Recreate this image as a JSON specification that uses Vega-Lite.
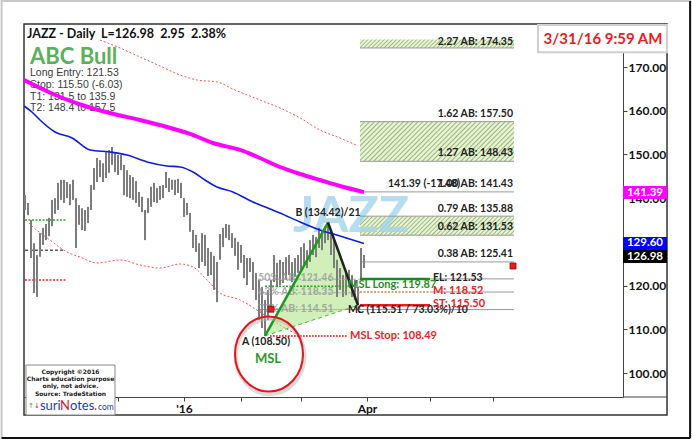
{
"$schema": "https://vega.github.io/schema/vega-lite/v6.json",
"width": 599, "height": 373,
"autosize": {"type": "none"},
"padding": {"left": 24, "top": 24, "right": 69, "bottom": 43},
"background": "white",
"config": {"view": {"stroke": null}, "font": "Lato"},
"datasets": {
"bars": [
{"i":-113,"v":140.7,"v2":137.3},{"i":-112,"v":138.9,"v2":136.1},{"i":-111,"v":135.0,"v2":126.3},{"i":-110,"v":129.7,"v2":118.3},{"i":-109,"v":127.0,"v2":117.4},{"i":-108,"v":132.0,"v2":126.6},{"i":-107,"v":133.2,"v2":129.3},{"i":-106,"v":134.1,"v2":130.4},{"i":-105,"v":135.5,"v2":131.3},{"i":-104,"v":139.6,"v2":133.6},{"i":-103,"v":140.0,"v2":136.4},{"i":-102,"v":143.5,"v2":137.3},{"i":-101,"v":144.2,"v2":139.6},{"i":-100,"v":144.2,"v2":138.9},{"i":-99,"v":143.7,"v2":140.0},{"i":-98,"v":143.2,"v2":138.4},{"i":-97,"v":144.2,"v2":139.6},{"i":-96,"v":140.0,"v2":128.6},{"i":-95,"v":138.4,"v2":133.9},{"i":-94,"v":137.7,"v2":132.7},{"i":-93,"v":137.3,"v2":132.5},{"i":-92,"v":138.0,"v2":134.3},{"i":-91,"v":143.0,"v2":137.3},{"i":-90,"v":146.9,"v2":141.9},{"i":-89,"v":149.2,"v2":143.7},{"i":-88,"v":148.7,"v2":144.8},{"i":-87,"v":148.0,"v2":143.7},{"i":-86,"v":150.6,"v2":144.6},{"i":-85,"v":151.0,"v2":145.8},{"i":-84,"v":151.7,"v2":147.6},{"i":-83,"v":150.3,"v2":146.0},{"i":-82,"v":149.9,"v2":145.3},{"i":-81,"v":149.9,"v2":146.4},{"i":-80,"v":147.6,"v2":140.7},{"i":-79,"v":146.4,"v2":140.3},{"i":-78,"v":145.3,"v2":140.0},{"i":-77,"v":144.8,"v2":139.6},{"i":-76,"v":143.9,"v2":138.9},{"i":-75,"v":141.4,"v2":138.0},{"i":-74,"v":140.3,"v2":136.8},{"i":-73,"v":137.3,"v2":130.4},{"i":-72,"v":140.0,"v2":136.6},{"i":-71,"v":142.6,"v2":138.0},{"i":-70,"v":143.5,"v2":139.1},{"i":-69,"v":142.3,"v2":138.9},{"i":-68,"v":142.8,"v2":139.6},{"i":-67,"v":143.0,"v2":140.0},{"i":-66,"v":146.0,"v2":142.3},{"i":-65,"v":144.6,"v2":141.4},{"i":-64,"v":144.2,"v2":141.9},{"i":-63,"v":144.2,"v2":140.7},{"i":-62,"v":144.4,"v2":141.2},{"i":-61,"v":143.5,"v2":140.0},{"i":-60,"v":140.0,"v2":135.7},{"i":-59,"v":138.9,"v2":136.1},{"i":-58,"v":136.6,"v2":132.3},{"i":-57,"v":132.7,"v2":128.6},{"i":-56,"v":131.6,"v2":127.7},{"i":-55,"v":129.7,"v2":124.0},{"i":-54,"v":132.0,"v2":125.4},{"i":-53,"v":131.6,"v2":124.5},{"i":-52,"v":128.6,"v2":122.2},{"i":-51,"v":127.7,"v2":122.4},{"i":-50,"v":126.8,"v2":119.0},{"i":-49,"v":125.4,"v2":116.2},{"i":-48,"v":131.8,"v2":125.9},{"i":-47,"v":133.2,"v2":128.8},{"i":-46,"v":134.1,"v2":130.9},{"i":-45,"v":133.9,"v2":130.4},{"i":-44,"v":132.0,"v2":128.6},{"i":-43,"v":130.9,"v2":126.8},{"i":-42,"v":130.0,"v2":123.6},{"i":-41,"v":129.3,"v2":125.2},{"i":-40,"v":127.0,"v2":121.7},{"i":-39,"v":126.3,"v2":120.1},{"i":-38,"v":126.3,"v2":123.1},{"i":-37,"v":125.4,"v2":119.0},{"i":-36,"v":122.9,"v2":116.7},{"i":-35,"v":121.3,"v2":112.1},{"i":-34,"v":119.7,"v2":110.3},{"i":-33,"v":116.7,"v2":108.5},{"i":-32,"v":119.0,"v2":112.1},{"i":-31,"v":121.3,"v2":114.0},{"i":-30,"v":127.0,"v2":120.8},{"i":-29,"v":125.2,"v2":119.7},{"i":-28,"v":125.9,"v2":120.1},{"i":-27,"v":125.4,"v2":120.6},{"i":-26,"v":126.5,"v2":121.3},{"i":-25,"v":127.0,"v2":122.4},{"i":-24,"v":125.4,"v2":120.8},{"i":-23,"v":126.3,"v2":122.0},{"i":-22,"v":127.0,"v2":122.9},{"i":-21,"v":128.8,"v2":123.6},{"i":-20,"v":129.7,"v2":124.7},{"i":-19,"v":128.1,"v2":124.0},{"i":-18,"v":130.4,"v2":125.4},{"i":-17,"v":131.6,"v2":127.0},{"i":-16,"v":131.1,"v2":126.5},{"i":-15,"v":133.2,"v2":128.6},{"i":-14,"v":132.7,"v2":128.1},{"i":-13,"v":133.6,"v2":129.7},{"i":-12,"v":134.42,"v2":130.4},{"i":-11,"v":132.3,"v2":127.0},{"i":-10,"v":130.4,"v2":124.0},{"i":-9,"v":125.9,"v2":117.4},{"i":-8,"v":124.0,"v2":119.0},{"i":-7,"v":122.4,"v2":117.4},{"i":-6,"v":123.1,"v2":117.8},{"i":-5,"v":123.6,"v2":119.7},{"i":-4,"v":122.4,"v2":117.4},{"i":-3,"v":121.3,"v2":116.7},{"i":-2,"v":119.7,"v2":115.5},{"i":-1,"v":128.6,"v2":121.3},{"i":0,"v":127.0,"v2":124.0}
],
"ma50": [
{"i":-113.3,"v":161.08},{"i":-110.7,"v":159.71},{"i":-108,"v":157.88},{"i":-103,"v":155.14},{"i":-97.3,"v":153.76},{"i":-91.3,"v":151.02},{"i":-84.7,"v":150.56},{"i":-79,"v":149.87},{"i":-72.3,"v":148.27},{"i":-65.7,"v":147.36},{"i":-61.3,"v":147.13},{"i":-57,"v":145.99},{"i":-53,"v":144.15},{"i":-49,"v":142.55},{"i":-43.7,"v":141.41},{"i":-37,"v":139.12},{"i":-31.3,"v":137.52},{"i":-28,"v":136.6},{"i":-21.3,"v":134.54},{"i":-14.7,"v":132.72},{"i":-8,"v":131.34},{"i":0,"v":129.6}
],
"ma200": [
{"i":-113.3,"v":167.03},{"i":-108,"v":165.2},{"i":-101.3,"v":163.14},{"i":-93,"v":161.08},{"i":-84.7,"v":159.48},{"i":-74.7,"v":157.88},{"i":-65.7,"v":156.28},{"i":-58,"v":154.68},{"i":-50.3,"v":152.62},{"i":-41.3,"v":151.02},{"i":-34.7,"v":149.19},{"i":-28,"v":147.13},{"i":-21.3,"v":145.53},{"i":-14.7,"v":144.15},{"i":-8,"v":142.78},{"i":0,"v":141.39}
],
"bandUp": [
{"i":-88,"v":176.18},{"i":-81.3,"v":174.35},{"i":-74.7,"v":172.29},{"i":-68,"v":170.24},{"i":-61.3,"v":168.18},{"i":-55.7,"v":167.03},{"i":-49,"v":166.57},{"i":-43,"v":164.74},{"i":-34.7,"v":162.46},{"i":-28,"v":160.63},{"i":-21.3,"v":158.34},{"i":-14.7,"v":155.59},{"i":-8,"v":153.76},{"i":-2.7,"v":152.16}
],
"bandLo": [
{"i":-112.7,"v":135.0},{"i":-110.3,"v":133.4},{"i":-104.7,"v":130.43},{"i":-99,"v":127.68},{"i":-94.7,"v":126.54},{"i":-89,"v":125.17},{"i":-81.3,"v":125.85},{"i":-74.7,"v":124.71},{"i":-68,"v":124.02},{"i":-61.3,"v":124.94},{"i":-57,"v":124.25},{"i":-52.3,"v":121.28},{"i":-48,"v":118.3},{"i":-41.3,"v":116.7},{"i":-34.7,"v":113.96},{"i":-28,"v":110.98},{"i":-21.3,"v":108.46}
],
"box1": [{"i":-1.33,"i2":50,"v":176.3,"v2":174.35}],
"box2": [{"i":-1.33,"i2":50,"v":157.5,"v2":148.43}],
"box3": [{"i":-1.33,"i2":50,"v":135.88,"v2":131.53}],
"levels": [{"i":-1.33,"i2":50,"v":174.35},{"i":-1.33,"i2":50,"v":157.5},{"i":-1.33,"i2":50,"v":148.43},{"i":-0.67,"i2":50,"v":141.43},{"i":-1.33,"i2":50,"v":135.88},{"i":-1.33,"i2":50,"v":131.53},{"i":-0.67,"i2":50,"v":125.41},{"i":22,"i2":50,"v":121.53},{"i":22,"i2":50,"v":118.52},{"i":-35.3,"i2":50,"v":114.51}],
"levelLabels": [{"i":49.67,"v":175.8,"t":"2.27 AB: 174.35"},{"i":49.67,"v":159.25,"t":"1.62 AB: 157.50"},{"i":49.67,"v":150.3,"t":"1.27 AB: 148.43"},{"i":49.67,"v":143.2,"t":"1.00 AB: 141.43"},{"i":49.67,"v":137.5,"t":"0.79 AB: 135.88"},{"i":49.67,"v":133.4,"t":"0.62 AB: 131.53"},{"i":49.67,"v":127.2,"t":"0.38 AB: 125.41"}],
"blackLeft": [{"i":8,"v":143.2,"t":"141.39 (-17.48)"},{"i":23,"v":121.7,"t":"EL: 121.53"},{"i":-2.3,"v":114.4,"t":"C (115.51 / 73.03%)/10"},{"i":-5.3,"v":114.4,"t":"M:"}],
"redLeft": [{"i":23,"v":118.8,"t":"M: 118.52"},{"i":23,"v":115.8,"t":"ST: 115.50"},{"i":-4.67,"v":108.5,"t":"MSL Stop: 108.49"}],
"greenLeft": [{"i":-5.3,"v":120.1,"t":"MSL Long: 119.87"}],
"grayRetr": [{"i":-35.3,"v":121.7,"t":"50% AB: 121.46"},{"i":-35.3,"v":118.5,"t":"62% AB: 118.35"},{"i":-35.3,"v":114.6,"t":"77% AB: 114.51"}],
"retrLines": [{"i":-35.3,"i2":-1.33,"v":121.46},{"i":-35.3,"i2":-1.33,"v":118.35}],
"elLine": [{"i":-1.33,"i2":22,"v":121.53}],
"stLine": [{"i":-1.33,"i2":22,"v":115.5}],
"mLine": [{"i":-1.33,"i2":22,"v":118.52}],
"mslLong": [{"i":-33,"i2":-5.3,"v":119.87}],
"mslStop": [{"i":-31.3,"i2":-5.3,"v":108.49}],
"oldGreen": [{"i":-113,"i2":-99.3,"v":135.0}],
"oldBlack": [{"i":-113,"i2":-100.3,"v":128.1}],
"oldRed": [{"i":-113,"i2":-99.3,"v":121.3}],
"tri": [{"i":-33,"v":108.5,"v2":108.5},{"i":-12,"v":134.42,"v2":113.25},{"i":-2,"v":115.51,"v2":115.51}],
"ab": [{"i":-33,"v":108.5},{"i":-12,"v":134.42}],
"bc": [{"i":-12,"v":134.42},{"i":-2,"v":115.51}],
"ac": [{"i":-33,"v":108.5},{"i":-2,"v":115.51}],
"centerBlack": [{"i":-12,"v":136.6,"t":"B (134.42)/21"},{"i":-32.67,"v":107.1,"t":"A (108.50)"}],
"msl": [{"i":-32,"v":103.2,"t":"MSL"}],
"circle": [{"i":-31.67,"v":104.35}],
"shadow": [{"i":-31.3,"v":103.8}],
"redSq": [{"i":49.67,"v":124.48},{"i":-31,"v":114.6}],
"header": [{"i":-112.33,"v":177.56,"t":"JAZZ - Daily\u00a0 L=126.98\u00a0 2.95\u00a0 2.38%"}],
"abc": [{"i":-111.33,"v":172.3,"t":"ABC Bull"}],
"details": [{"i":-111.33,"v":168.6,"t":"Long Entry: 121.53"},{"i":-111.33,"v":165.9,"t":"Stop: 115.50 (-6.03)"},{"i":-111.33,"v":163.1,"t":"T1: 131.5 to 135.9"},{"i":-111.33,"v":160.6,"t":"T2: 148.4 to 157.5"}],
"watermark": [{"i":-4.33,"v":135.7,"t":"JAZZ"}],
"axisBoxes": [{"i":86.33,"i2":101,"v":142.78,"v2":139.8,"c":"m","t":"141.39","vt":141.29},{"i":86.33,"i2":101,"v":131.11,"v2":128.14,"c":"b","t":"129.60","vt":129.63},{"i":86.33,"i2":101,"v":128.14,"v2":125.17,"c":"k","t":"126.98","vt":126.65}],
"dateBox": [{"i":58,"i2":101,"v":179.6,"v2":173.37}],
"dateText": [{"i":79.67,"v":176.38,"t":"3/31/16 9:59 AM"}],
"frame": [{"i":-113.33,"i2":101,"v":179.84,"v2":90.39}],
"outer": [{"i":-120.8,"i2":108.7,"v":185.1,"v2":85.13}],
"outerBottom": [{"i":-120.8,"i2":108.7,"v":85.13}],
"outerRight": [{"i":108.7,"v":185.1,"v2":85.13}],
"axisExt": [{"i":86.33,"i2":101,"v":94.51}],
"copyBox": [{"i":-112.67,"i2":-83,"v":101.83,"v2":90.39}],
"copyText": [{"i":-97.83,"v":100.23,"t":"Copyright ©2016"},{"i":-97.83,"v":98.63,"t":"Charts education purpose"},{"i":-97.83,"v":97.03,"t":"only, not advice."},{"i":-97.83,"v":95.2,"t":"Source: TradeStation"}],
"logoBlue": [{"i":-108,"v":92.45,"t":"suri"},{"i":-98,"v":92.45,"t":"otes"}],
"logoRed": [{"i":-101.33,"v":92.45,"t":"N"},{"i":-90,"v":92.45,"t":"."}],
"logoCom": [{"i":-88.67,"v":92.3,"t":"com"}],
"arrowUp": [{"i":-112,"v":92.45,"t":"↑"}],
"arrowDown": [{"i":-110,"v":92.45,"t":"↓"}]
},
"encoding": {
"x": {"field": "i", "type": "quantitative",
 "scale": {"domain": [-113.33, 86.33], "nice": false, "zero": false},
 "axis": {"orient": "bottom", "values": [-82, -60, -41, -21, 1, 22, 43], "labelExpr": "datum.value == -60 ? \"'16\" : (datum.value == 1 ? 'Apr' : '')", "title": null, "grid": false, "domainColor": "#444", "tickColor": "#444", "tickSize": 4, "labelFont": "Lato", "labelFontWeight": "bold", "labelFontSize": 12, "labelColor": "#111", "labelPadding": 2, "labelFlush": false, "labelOverlap": false}},
"y": {"field": "v", "type": "quantitative",
 "scale": {"domain": [94.51, 179.84], "nice": false, "zero": false},
 "axis": {"orient": "right", "values": [100, 110, 120, 130, 140, 150, 160, 170], "format": ".2f", "title": null, "grid": false, "domainColor": "#444", "tickColor": "#444", "tickSize": 4, "labelFont": "Lato", "labelFontWeight": "bold", "labelFontSize": 12, "labelColor": "#111", "labelPadding": 1}}
},
"layer": [
{"data": {"name": "outer"}, "mark": {"type": "rect", "fill": null, "stroke": "#c8c8c8", "strokeWidth": 2, "clip": false}, "encoding": {"x2": {"field": "i2"}, "y2": {"field": "v2"}}},
{"data": {"name": "outerBottom"}, "mark": {"type": "rule", "color": "#111", "strokeWidth": 2, "clip": false}, "encoding": {"x2": {"field": "i2"}}},
{"data": {"name": "outerRight"}, "mark": {"type": "rule", "color": "#111", "strokeWidth": 2, "clip": false}, "encoding": {"y2": {"field": "v2"}}},
{"data": {"name": "frame"}, "mark": {"type": "rect", "fill": null, "stroke": "#333", "strokeWidth": 1.5, "clip": false}, "encoding": {"x2": {"field": "i2"}, "y2": {"field": "v2"}}},
{"data": {"name": "box1"}, "mark": {"type": "rect", "stroke": null, "clip": false, "fill": {"gradient": "linear", "x1": 0, "y1": 0, "x2": 1.052, "y2": 0.0581, "stops": [
{"offset":0,"color":"#9db589"},{"offset":0.0075,"color":"#e6f4cf"},{"offset":0.0175,"color":"#e6f4cf"},{"offset":0.025,"color":"#9db589"},{"offset":0.0325,"color":"#e6f4cf"},{"offset":0.0425,"color":"#e6f4cf"},{"offset":0.05,"color":"#9db589"},{"offset":0.0575,"color":"#e6f4cf"},{"offset":0.0675,"color":"#e6f4cf"},{"offset":0.075,"color":"#9db589"},{"offset":0.0825,"color":"#e6f4cf"},{"offset":0.0925,"color":"#e6f4cf"},{"offset":0.1,"color":"#9db589"},{"offset":0.1075,"color":"#e6f4cf"},{"offset":0.1175,"color":"#e6f4cf"},{"offset":0.125,"color":"#9db589"},{"offset":0.1325,"color":"#e6f4cf"},{"offset":0.1425,"color":"#e6f4cf"},{"offset":0.15,"color":"#9db589"},{"offset":0.1575,"color":"#e6f4cf"},{"offset":0.1675,"color":"#e6f4cf"},{"offset":0.175,"color":"#9db589"},{"offset":0.1825,"color":"#e6f4cf"},{"offset":0.1925,"color":"#e6f4cf"},{"offset":0.2,"color":"#9db589"},{"offset":0.2075,"color":"#e6f4cf"},{"offset":0.2175,"color":"#e6f4cf"},{"offset":0.225,"color":"#9db589"},{"offset":0.2325,"color":"#e6f4cf"},{"offset":0.2425,"color":"#e6f4cf"},{"offset":0.25,"color":"#9db589"},{"offset":0.2575,"color":"#e6f4cf"},{"offset":0.2675,"color":"#e6f4cf"},{"offset":0.275,"color":"#9db589"},{"offset":0.2825,"color":"#e6f4cf"},{"offset":0.2925,"color":"#e6f4cf"},{"offset":0.3,"color":"#9db589"},{"offset":0.3075,"color":"#e6f4cf"},{"offset":0.3175,"color":"#e6f4cf"},{"offset":0.325,"color":"#9db589"},{"offset":0.3325,"color":"#e6f4cf"},{"offset":0.3425,"color":"#e6f4cf"},{"offset":0.35,"color":"#9db589"},{"offset":0.3575,"color":"#e6f4cf"},{"offset":0.3675,"color":"#e6f4cf"},{"offset":0.375,"color":"#9db589"},{"offset":0.3825,"color":"#e6f4cf"},{"offset":0.3925,"color":"#e6f4cf"},{"offset":0.4,"color":"#9db589"},{"offset":0.4075,"color":"#e6f4cf"},{"offset":0.4175,"color":"#e6f4cf"},{"offset":0.425,"color":"#9db589"},{"offset":0.4325,"color":"#e6f4cf"},{"offset":0.4425,"color":"#e6f4cf"},{"offset":0.45,"color":"#9db589"},{"offset":0.4575,"color":"#e6f4cf"},{"offset":0.4675,"color":"#e6f4cf"},{"offset":0.475,"color":"#9db589"},{"offset":0.4825,"color":"#e6f4cf"},{"offset":0.4925,"color":"#e6f4cf"},{"offset":0.5,"color":"#9db589"},{"offset":0.5075,"color":"#e6f4cf"},{"offset":0.5175,"color":"#e6f4cf"},{"offset":0.525,"color":"#9db589"},{"offset":0.5325,"color":"#e6f4cf"},{"offset":0.5425,"color":"#e6f4cf"},{"offset":0.55,"color":"#9db589"},{"offset":0.5575,"color":"#e6f4cf"},{"offset":0.5675,"color":"#e6f4cf"},{"offset":0.575,"color":"#9db589"},{"offset":0.5825,"color":"#e6f4cf"},{"offset":0.5925,"color":"#e6f4cf"},{"offset":0.6,"color":"#9db589"},{"offset":0.6075,"color":"#e6f4cf"},{"offset":0.6175,"color":"#e6f4cf"},{"offset":0.625,"color":"#9db589"},{"offset":0.6325,"color":"#e6f4cf"},{"offset":0.6425,"color":"#e6f4cf"},{"offset":0.65,"color":"#9db589"},{"offset":0.6575,"color":"#e6f4cf"},{"offset":0.6675,"color":"#e6f4cf"},{"offset":0.675,"color":"#9db589"},{"offset":0.6825,"color":"#e6f4cf"},{"offset":0.6925,"color":"#e6f4cf"},{"offset":0.7,"color":"#9db589"},{"offset":0.7075,"color":"#e6f4cf"},{"offset":0.7175,"color":"#e6f4cf"},{"offset":0.725,"color":"#9db589"},{"offset":0.7325,"color":"#e6f4cf"},{"offset":0.7425,"color":"#e6f4cf"},{"offset":0.75,"color":"#9db589"},{"offset":0.7575,"color":"#e6f4cf"},{"offset":0.7675,"color":"#e6f4cf"},{"offset":0.775,"color":"#9db589"},{"offset":0.7825,"color":"#e6f4cf"},{"offset":0.7925,"color":"#e6f4cf"},{"offset":0.8,"color":"#9db589"},{"offset":0.8075,"color":"#e6f4cf"},{"offset":0.8175,"color":"#e6f4cf"},{"offset":0.825,"color":"#9db589"},{"offset":0.8325,"color":"#e6f4cf"},{"offset":0.8425,"color":"#e6f4cf"},{"offset":0.85,"color":"#9db589"},{"offset":0.8575,"color":"#e6f4cf"},{"offset":0.8675,"color":"#e6f4cf"},{"offset":0.875,"color":"#9db589"},{"offset":0.8825,"color":"#e6f4cf"},{"offset":0.8925,"color":"#e6f4cf"},{"offset":0.9,"color":"#9db589"},{"offset":0.9075,"color":"#e6f4cf"},{"offset":0.9175,"color":"#e6f4cf"},{"offset":0.925,"color":"#9db589"},{"offset":0.9325,"color":"#e6f4cf"},{"offset":0.9425,"color":"#e6f4cf"},{"offset":0.95,"color":"#9db589"},{"offset":0.9575,"color":"#e6f4cf"},{"offset":0.9675,"color":"#e6f4cf"},{"offset":0.975,"color":"#9db589"},{"offset":0.9825,"color":"#e6f4cf"},{"offset":0.9925,"color":"#e6f4cf"},{"offset":1,"color":"#9db589"}]}}, "encoding": {"x2": {"field": "i2"}, "y2": {"field": "v2"}}},
{"data": {"name": "box2"}, "mark": {"type": "rect", "stroke": null, "clip": false, "fill": {"gradient": "linear", "x1": 0, "y1": 0, "x2": 1.179, "y2": 0.303, "stops": [
{"offset":0,"color":"#9db589"},{"offset":0.0075,"color":"#e6f4cf"},{"offset":0.0175,"color":"#e6f4cf"},{"offset":0.025,"color":"#9db589"},{"offset":0.0325,"color":"#e6f4cf"},{"offset":0.0425,"color":"#e6f4cf"},{"offset":0.05,"color":"#9db589"},{"offset":0.0575,"color":"#e6f4cf"},{"offset":0.0675,"color":"#e6f4cf"},{"offset":0.075,"color":"#9db589"},{"offset":0.0825,"color":"#e6f4cf"},{"offset":0.0925,"color":"#e6f4cf"},{"offset":0.1,"color":"#9db589"},{"offset":0.1075,"color":"#e6f4cf"},{"offset":0.1175,"color":"#e6f4cf"},{"offset":0.125,"color":"#9db589"},{"offset":0.1325,"color":"#e6f4cf"},{"offset":0.1425,"color":"#e6f4cf"},{"offset":0.15,"color":"#9db589"},{"offset":0.1575,"color":"#e6f4cf"},{"offset":0.1675,"color":"#e6f4cf"},{"offset":0.175,"color":"#9db589"},{"offset":0.1825,"color":"#e6f4cf"},{"offset":0.1925,"color":"#e6f4cf"},{"offset":0.2,"color":"#9db589"},{"offset":0.2075,"color":"#e6f4cf"},{"offset":0.2175,"color":"#e6f4cf"},{"offset":0.225,"color":"#9db589"},{"offset":0.2325,"color":"#e6f4cf"},{"offset":0.2425,"color":"#e6f4cf"},{"offset":0.25,"color":"#9db589"},{"offset":0.2575,"color":"#e6f4cf"},{"offset":0.2675,"color":"#e6f4cf"},{"offset":0.275,"color":"#9db589"},{"offset":0.2825,"color":"#e6f4cf"},{"offset":0.2925,"color":"#e6f4cf"},{"offset":0.3,"color":"#9db589"},{"offset":0.3075,"color":"#e6f4cf"},{"offset":0.3175,"color":"#e6f4cf"},{"offset":0.325,"color":"#9db589"},{"offset":0.3325,"color":"#e6f4cf"},{"offset":0.3425,"color":"#e6f4cf"},{"offset":0.35,"color":"#9db589"},{"offset":0.3575,"color":"#e6f4cf"},{"offset":0.3675,"color":"#e6f4cf"},{"offset":0.375,"color":"#9db589"},{"offset":0.3825,"color":"#e6f4cf"},{"offset":0.3925,"color":"#e6f4cf"},{"offset":0.4,"color":"#9db589"},{"offset":0.4075,"color":"#e6f4cf"},{"offset":0.4175,"color":"#e6f4cf"},{"offset":0.425,"color":"#9db589"},{"offset":0.4325,"color":"#e6f4cf"},{"offset":0.4425,"color":"#e6f4cf"},{"offset":0.45,"color":"#9db589"},{"offset":0.4575,"color":"#e6f4cf"},{"offset":0.4675,"color":"#e6f4cf"},{"offset":0.475,"color":"#9db589"},{"offset":0.4825,"color":"#e6f4cf"},{"offset":0.4925,"color":"#e6f4cf"},{"offset":0.5,"color":"#9db589"},{"offset":0.5075,"color":"#e6f4cf"},{"offset":0.5175,"color":"#e6f4cf"},{"offset":0.525,"color":"#9db589"},{"offset":0.5325,"color":"#e6f4cf"},{"offset":0.5425,"color":"#e6f4cf"},{"offset":0.55,"color":"#9db589"},{"offset":0.5575,"color":"#e6f4cf"},{"offset":0.5675,"color":"#e6f4cf"},{"offset":0.575,"color":"#9db589"},{"offset":0.5825,"color":"#e6f4cf"},{"offset":0.5925,"color":"#e6f4cf"},{"offset":0.6,"color":"#9db589"},{"offset":0.6075,"color":"#e6f4cf"},{"offset":0.6175,"color":"#e6f4cf"},{"offset":0.625,"color":"#9db589"},{"offset":0.6325,"color":"#e6f4cf"},{"offset":0.6425,"color":"#e6f4cf"},{"offset":0.65,"color":"#9db589"},{"offset":0.6575,"color":"#e6f4cf"},{"offset":0.6675,"color":"#e6f4cf"},{"offset":0.675,"color":"#9db589"},{"offset":0.6825,"color":"#e6f4cf"},{"offset":0.6925,"color":"#e6f4cf"},{"offset":0.7,"color":"#9db589"},{"offset":0.7075,"color":"#e6f4cf"},{"offset":0.7175,"color":"#e6f4cf"},{"offset":0.725,"color":"#9db589"},{"offset":0.7325,"color":"#e6f4cf"},{"offset":0.7425,"color":"#e6f4cf"},{"offset":0.75,"color":"#9db589"},{"offset":0.7575,"color":"#e6f4cf"},{"offset":0.7675,"color":"#e6f4cf"},{"offset":0.775,"color":"#9db589"},{"offset":0.7825,"color":"#e6f4cf"},{"offset":0.7925,"color":"#e6f4cf"},{"offset":0.8,"color":"#9db589"},{"offset":0.8075,"color":"#e6f4cf"},{"offset":0.8175,"color":"#e6f4cf"},{"offset":0.825,"color":"#9db589"},{"offset":0.8325,"color":"#e6f4cf"},{"offset":0.8425,"color":"#e6f4cf"},{"offset":0.85,"color":"#9db589"},{"offset":0.8575,"color":"#e6f4cf"},{"offset":0.8675,"color":"#e6f4cf"},{"offset":0.875,"color":"#9db589"},{"offset":0.8825,"color":"#e6f4cf"},{"offset":0.8925,"color":"#e6f4cf"},{"offset":0.9,"color":"#9db589"},{"offset":0.9075,"color":"#e6f4cf"},{"offset":0.9175,"color":"#e6f4cf"},{"offset":0.925,"color":"#9db589"},{"offset":0.9325,"color":"#e6f4cf"},{"offset":0.9425,"color":"#e6f4cf"},{"offset":0.95,"color":"#9db589"},{"offset":0.9575,"color":"#e6f4cf"},{"offset":0.9675,"color":"#e6f4cf"},{"offset":0.975,"color":"#9db589"},{"offset":0.9825,"color":"#e6f4cf"},{"offset":0.9925,"color":"#e6f4cf"},{"offset":1,"color":"#9db589"}]}}, "encoding": {"x2": {"field": "i2"}, "y2": {"field": "v2"}}},
{"data": {"name": "box3"}, "mark": {"type": "rect", "stroke": null, "clip": false, "fill": {"gradient": "linear", "x1": 0, "y1": 0, "x2": 1.1066, "y2": 0.1366, "stops": [
{"offset":0,"color":"#9db589"},{"offset":0.0075,"color":"#e6f4cf"},{"offset":0.0175,"color":"#e6f4cf"},{"offset":0.025,"color":"#9db589"},{"offset":0.0325,"color":"#e6f4cf"},{"offset":0.0425,"color":"#e6f4cf"},{"offset":0.05,"color":"#9db589"},{"offset":0.0575,"color":"#e6f4cf"},{"offset":0.0675,"color":"#e6f4cf"},{"offset":0.075,"color":"#9db589"},{"offset":0.0825,"color":"#e6f4cf"},{"offset":0.0925,"color":"#e6f4cf"},{"offset":0.1,"color":"#9db589"},{"offset":0.1075,"color":"#e6f4cf"},{"offset":0.1175,"color":"#e6f4cf"},{"offset":0.125,"color":"#9db589"},{"offset":0.1325,"color":"#e6f4cf"},{"offset":0.1425,"color":"#e6f4cf"},{"offset":0.15,"color":"#9db589"},{"offset":0.1575,"color":"#e6f4cf"},{"offset":0.1675,"color":"#e6f4cf"},{"offset":0.175,"color":"#9db589"},{"offset":0.1825,"color":"#e6f4cf"},{"offset":0.1925,"color":"#e6f4cf"},{"offset":0.2,"color":"#9db589"},{"offset":0.2075,"color":"#e6f4cf"},{"offset":0.2175,"color":"#e6f4cf"},{"offset":0.225,"color":"#9db589"},{"offset":0.2325,"color":"#e6f4cf"},{"offset":0.2425,"color":"#e6f4cf"},{"offset":0.25,"color":"#9db589"},{"offset":0.2575,"color":"#e6f4cf"},{"offset":0.2675,"color":"#e6f4cf"},{"offset":0.275,"color":"#9db589"},{"offset":0.2825,"color":"#e6f4cf"},{"offset":0.2925,"color":"#e6f4cf"},{"offset":0.3,"color":"#9db589"},{"offset":0.3075,"color":"#e6f4cf"},{"offset":0.3175,"color":"#e6f4cf"},{"offset":0.325,"color":"#9db589"},{"offset":0.3325,"color":"#e6f4cf"},{"offset":0.3425,"color":"#e6f4cf"},{"offset":0.35,"color":"#9db589"},{"offset":0.3575,"color":"#e6f4cf"},{"offset":0.3675,"color":"#e6f4cf"},{"offset":0.375,"color":"#9db589"},{"offset":0.3825,"color":"#e6f4cf"},{"offset":0.3925,"color":"#e6f4cf"},{"offset":0.4,"color":"#9db589"},{"offset":0.4075,"color":"#e6f4cf"},{"offset":0.4175,"color":"#e6f4cf"},{"offset":0.425,"color":"#9db589"},{"offset":0.4325,"color":"#e6f4cf"},{"offset":0.4425,"color":"#e6f4cf"},{"offset":0.45,"color":"#9db589"},{"offset":0.4575,"color":"#e6f4cf"},{"offset":0.4675,"color":"#e6f4cf"},{"offset":0.475,"color":"#9db589"},{"offset":0.4825,"color":"#e6f4cf"},{"offset":0.4925,"color":"#e6f4cf"},{"offset":0.5,"color":"#9db589"},{"offset":0.5075,"color":"#e6f4cf"},{"offset":0.5175,"color":"#e6f4cf"},{"offset":0.525,"color":"#9db589"},{"offset":0.5325,"color":"#e6f4cf"},{"offset":0.5425,"color":"#e6f4cf"},{"offset":0.55,"color":"#9db589"},{"offset":0.5575,"color":"#e6f4cf"},{"offset":0.5675,"color":"#e6f4cf"},{"offset":0.575,"color":"#9db589"},{"offset":0.5825,"color":"#e6f4cf"},{"offset":0.5925,"color":"#e6f4cf"},{"offset":0.6,"color":"#9db589"},{"offset":0.6075,"color":"#e6f4cf"},{"offset":0.6175,"color":"#e6f4cf"},{"offset":0.625,"color":"#9db589"},{"offset":0.6325,"color":"#e6f4cf"},{"offset":0.6425,"color":"#e6f4cf"},{"offset":0.65,"color":"#9db589"},{"offset":0.6575,"color":"#e6f4cf"},{"offset":0.6675,"color":"#e6f4cf"},{"offset":0.675,"color":"#9db589"},{"offset":0.6825,"color":"#e6f4cf"},{"offset":0.6925,"color":"#e6f4cf"},{"offset":0.7,"color":"#9db589"},{"offset":0.7075,"color":"#e6f4cf"},{"offset":0.7175,"color":"#e6f4cf"},{"offset":0.725,"color":"#9db589"},{"offset":0.7325,"color":"#e6f4cf"},{"offset":0.7425,"color":"#e6f4cf"},{"offset":0.75,"color":"#9db589"},{"offset":0.7575,"color":"#e6f4cf"},{"offset":0.7675,"color":"#e6f4cf"},{"offset":0.775,"color":"#9db589"},{"offset":0.7825,"color":"#e6f4cf"},{"offset":0.7925,"color":"#e6f4cf"},{"offset":0.8,"color":"#9db589"},{"offset":0.8075,"color":"#e6f4cf"},{"offset":0.8175,"color":"#e6f4cf"},{"offset":0.825,"color":"#9db589"},{"offset":0.8325,"color":"#e6f4cf"},{"offset":0.8425,"color":"#e6f4cf"},{"offset":0.85,"color":"#9db589"},{"offset":0.8575,"color":"#e6f4cf"},{"offset":0.8675,"color":"#e6f4cf"},{"offset":0.875,"color":"#9db589"},{"offset":0.8825,"color":"#e6f4cf"},{"offset":0.8925,"color":"#e6f4cf"},{"offset":0.9,"color":"#9db589"},{"offset":0.9075,"color":"#e6f4cf"},{"offset":0.9175,"color":"#e6f4cf"},{"offset":0.925,"color":"#9db589"},{"offset":0.9325,"color":"#e6f4cf"},{"offset":0.9425,"color":"#e6f4cf"},{"offset":0.95,"color":"#9db589"},{"offset":0.9575,"color":"#e6f4cf"},{"offset":0.9675,"color":"#e6f4cf"},{"offset":0.975,"color":"#9db589"},{"offset":0.9825,"color":"#e6f4cf"},{"offset":0.9925,"color":"#e6f4cf"},{"offset":1,"color":"#9db589"}]}}, "encoding": {"x2": {"field": "i2"}, "y2": {"field": "v2"}}},
{"data": {"name": "watermark"}, "mark": {"type": "text", "align": "center", "baseline": "middle", "font": "Lato", "fontWeight": "bold", "fontSize": 50, "color": "#a3d5ec", "opacity": 0.8, "clip": false}, "encoding": {"text": {"field": "t"}}},
{"data": {"name": "levels"}, "mark": {"type": "rule", "color": "#999", "strokeWidth": 1, "clip": false}, "encoding": {"x2": {"field": "i2"}}},
{"data": {"name": "levelLabels"}, "mark": {"type": "text", "align": "right", "baseline": "middle", "font": "Lato", "fontWeight": "bold", "fontSize": 10.5, "color": "#222", "clip": false}, "encoding": {"text": {"field": "t"}}},
{"data": {"name": "header"}, "mark": {"type": "text", "align": "left", "baseline": "middle", "font": "Lato", "fontWeight": "bold", "fontSize": 12.5, "color": "#111", "clip": false}, "encoding": {"text": {"field": "t"}}},
{"data": {"name": "abc"}, "mark": {"type": "text", "align": "left", "baseline": "middle", "font": "Lato", "fontWeight": "bold", "fontSize": 22, "color": "#5caf5c", "clip": false}, "encoding": {"text": {"field": "t"}}},
{"data": {"name": "details"}, "mark": {"type": "text", "align": "left", "baseline": "middle", "font": "Liberation Sans", "fontSize": 10.5, "color": "#3a3a3a", "clip": false}, "encoding": {"text": {"field": "t"}}},
{"data": {"name": "oldGreen"}, "mark": {"type": "rule", "color": "#22aa22", "strokeWidth": 1.5, "strokeDash": [2, 1.5], "clip": false}, "encoding": {"x2": {"field": "i2"}}},
{"data": {"name": "oldBlack"}, "mark": {"type": "rule", "color": "#111", "strokeWidth": 1, "strokeDash": [3, 2], "clip": false}, "encoding": {"x2": {"field": "i2"}}},
{"data": {"name": "oldRed"}, "mark": {"type": "rule", "color": "#ff2222", "strokeWidth": 1.5, "strokeDash": [2, 1.5], "clip": false}, "encoding": {"x2": {"field": "i2"}}},
{"data": {"name": "bandUp"}, "mark": {"type": "line", "color": "#ff5050", "strokeWidth": 1, "strokeDash": [2, 2], "interpolate": "monotone", "clip": false}, "encoding": {}},
{"data": {"name": "bandLo"}, "mark": {"type": "line", "color": "#ff5050", "strokeWidth": 1, "strokeDash": [2, 2], "interpolate": "monotone", "clip": false}, "encoding": {}},
{"data": {"name": "tri"}, "mark": {"type": "area", "color": "#b3e58a", "opacity": 0.6, "clip": false}, "encoding": {"y2": {"field": "v2"}}},
{"data": {"name": "bars"}, "mark": {"type": "rule", "color": "#7d7d7d", "strokeWidth": 2, "clip": false}, "encoding": {"y2": {"field": "v2"}}},
{"data": {"name": "ma200"}, "mark": {"type": "line", "color": "#ff00ff", "strokeWidth": 4, "interpolate": "monotone", "clip": false}, "encoding": {}},
{"data": {"name": "ma50"}, "mark": {"type": "line", "color": "#0b1ee0", "strokeWidth": 1.6, "interpolate": "monotone", "clip": false}, "encoding": {}},
{"data": {"name": "retrLines"}, "mark": {"type": "rule", "color": "#aaa", "strokeWidth": 1, "strokeDash": [3, 2], "clip": false}, "encoding": {"x2": {"field": "i2"}}},
{"data": {"name": "grayRetr"}, "mark": {"type": "text", "align": "left", "baseline": "middle", "font": "Lato", "fontWeight": "bold", "fontSize": 10.5, "color": "#999", "opacity": 0.8, "clip": false}, "encoding": {"text": {"field": "t"}}},
{"data": {"name": "ac"}, "mark": {"type": "line", "color": "#4cb83a", "strokeWidth": 1, "strokeDash": [4, 3], "clip": false}, "encoding": {}},
{"data": {"name": "ab"}, "mark": {"type": "line", "color": "#1c9a1c", "strokeWidth": 2.5, "clip": false}, "encoding": {}},
{"data": {"name": "bc"}, "mark": {"type": "line", "color": "#222", "strokeWidth": 2.5, "clip": false}, "encoding": {}},
{"data": {"name": "mslLong"}, "mark": {"type": "rule", "color": "#22aa22", "strokeWidth": 1.5, "strokeDash": [2, 1.5], "clip": false}, "encoding": {"x2": {"field": "i2"}}},
{"data": {"name": "mslStop"}, "mark": {"type": "rule", "color": "#ff3030", "strokeWidth": 2, "strokeDash": [1.5, 1.5], "clip": false}, "encoding": {"x2": {"field": "i2"}}},
{"data": {"name": "elLine"}, "mark": {"type": "rule", "color": "#1a8a1a", "strokeWidth": 2.5, "clip": false}, "encoding": {"x2": {"field": "i2"}}},
{"data": {"name": "mLine"}, "mark": {"type": "rule", "color": "#d0864a", "strokeWidth": 1.5, "strokeDash": [2, 1.5], "clip": false}, "encoding": {"x2": {"field": "i2"}}},
{"data": {"name": "stLine"}, "mark": {"type": "rule", "color": "#ee1c1c", "strokeWidth": 2.5, "clip": false}, "encoding": {"x2": {"field": "i2"}}},
{"data": {"name": "blackLeft"}, "mark": {"type": "text", "align": "left", "baseline": "middle", "font": "Lato", "fontWeight": "bold", "fontSize": 10.5, "color": "#222", "clip": false}, "encoding": {"text": {"field": "t"}}},
{"data": {"name": "redLeft"}, "mark": {"type": "text", "align": "left", "baseline": "middle", "font": "Lato", "fontWeight": "bold", "fontSize": 11, "color": "#ee2222", "clip": false}, "encoding": {"text": {"field": "t"}}},
{"data": {"name": "greenLeft"}, "mark": {"type": "text", "align": "left", "baseline": "middle", "font": "Lato", "fontWeight": "bold", "fontSize": 11, "color": "#1f8f1f", "clip": false}, "encoding": {"text": {"field": "t"}}},
{"data": {"name": "shadow"}, "mark": {"type": "point", "shape": "M 0 -1 C 0.5 -1 0.907 -0.552 0.907 0 C 0.907 0.552 0.5 1 0 1 C -0.5 1 -0.907 0.552 -0.907 0 C -0.907 -0.552 -0.5 -1 0 -1 Z", "size": 5700, "filled": false, "stroke": "#b0b0b0", "strokeWidth": 4, "opacity": 0.45, "clip": false}, "encoding": {}},
{"data": {"name": "circle"}, "mark": {"type": "point", "shape": "M 0 -1 C 0.5 -1 0.907 -0.552 0.907 0 C 0.907 0.552 0.5 1 0 1 C -0.5 1 -0.907 0.552 -0.907 0 C -0.907 -0.552 -0.5 -1 0 -1 Z", "size": 5625, "filled": false, "stroke": "#e8141c", "strokeWidth": 2, "opacity": 1, "clip": false}, "encoding": {}},
{"data": {"name": "centerBlack"}, "mark": {"type": "text", "align": "center", "baseline": "middle", "font": "Lato", "fontWeight": "bold", "fontSize": 10.5, "color": "#222", "clip": false}, "encoding": {"text": {"field": "t"}}},
{"data": {"name": "msl"}, "mark": {"type": "text", "align": "center", "baseline": "middle", "font": "Lato", "fontWeight": "bold", "fontSize": 13, "color": "#2a9a2a", "clip": false}, "encoding": {"text": {"field": "t"}}},
{"data": {"name": "redSq"}, "mark": {"type": "point", "shape": "square", "size": 36, "filled": true, "color": "#e81c1c", "stroke": "#7a1010", "strokeWidth": 0.8, "opacity": 1, "clip": false}, "encoding": {}},
{"data": {"name": "axisBoxes"}, "mark": {"type": "rect", "clip": false}, "encoding": {"x2": {"field": "i2"}, "y2": {"field": "v2"}, "color": {"field": "c", "type": "nominal", "scale": {"domain": ["m", "b", "k"], "range": ["#ff00ff", "#0000ff", "#000000"]}, "legend": null}}},
{"data": {"name": "axisBoxes"}, "mark": {"type": "text", "align": "center", "baseline": "middle", "font": "Lato", "fontWeight": "bold", "fontSize": 11.5, "color": "#ffffff", "clip": false}, "encoding": {"y": {"field": "vt", "type": "quantitative"}, "x": {"field": "i", "type": "quantitative"}, "xOffset": {"value": 22}, "text": {"field": "t"}}},
{"data": {"name": "dateBox"}, "mark": {"type": "rect", "fill": "#ffffff", "stroke": "#d0d0d0", "strokeWidth": 2, "clip": false}, "encoding": {"x2": {"field": "i2"}, "y2": {"field": "v2"}}},
{"data": {"name": "dateText"}, "mark": {"type": "text", "align": "center", "baseline": "middle", "font": "Lato", "fontWeight": "bold", "fontSize": 15, "color": "#ee1c1c", "clip": false}, "encoding": {"text": {"field": "t"}}},
{"data": {"name": "axisExt"}, "mark": {"type": "rule", "color": "#444", "strokeWidth": 1, "clip": false}, "encoding": {"x2": {"field": "i2"}}},
{"data": {"name": "copyBox"}, "mark": {"type": "rect", "fill": "#ffffff", "stroke": "#888", "strokeWidth": 1, "clip": false}, "encoding": {"x2": {"field": "i2"}, "y2": {"field": "v2"}}},
{"data": {"name": "copyText"}, "mark": {"type": "text", "align": "center", "baseline": "middle", "font": "DejaVu Sans", "fontWeight": "bold", "fontSize": 6, "color": "#222", "clip": false}, "encoding": {"text": {"field": "t"}}},
{"data": {"name": "logoBlue"}, "mark": {"type": "text", "align": "left", "baseline": "middle", "font": "Lato", "fontSize": 13, "color": "#1f3fa8", "clip": false}, "encoding": {"text": {"field": "t"}}},
{"data": {"name": "logoRed"}, "mark": {"type": "text", "align": "left", "baseline": "middle", "font": "Lato", "fontSize": 13, "color": "#e02020", "clip": false}, "encoding": {"text": {"field": "t"}}},
{"data": {"name": "logoCom"}, "mark": {"type": "text", "align": "left", "baseline": "middle", "font": "Lato", "fontSize": 8.5, "color": "#1f3fa8", "clip": false}, "encoding": {"text": {"field": "t"}}},
{"data": {"name": "arrowUp"}, "mark": {"type": "text", "align": "left", "baseline": "middle", "font": "DejaVu Sans", "fontSize": 7, "color": "#2a9a2a", "clip": false}, "encoding": {"text": {"field": "t"}}},
{"data": {"name": "arrowDown"}, "mark": {"type": "text", "align": "left", "baseline": "middle", "font": "DejaVu Sans", "fontSize": 7, "color": "#e02020", "clip": false}, "encoding": {"text": {"field": "t"}}}
]
}
